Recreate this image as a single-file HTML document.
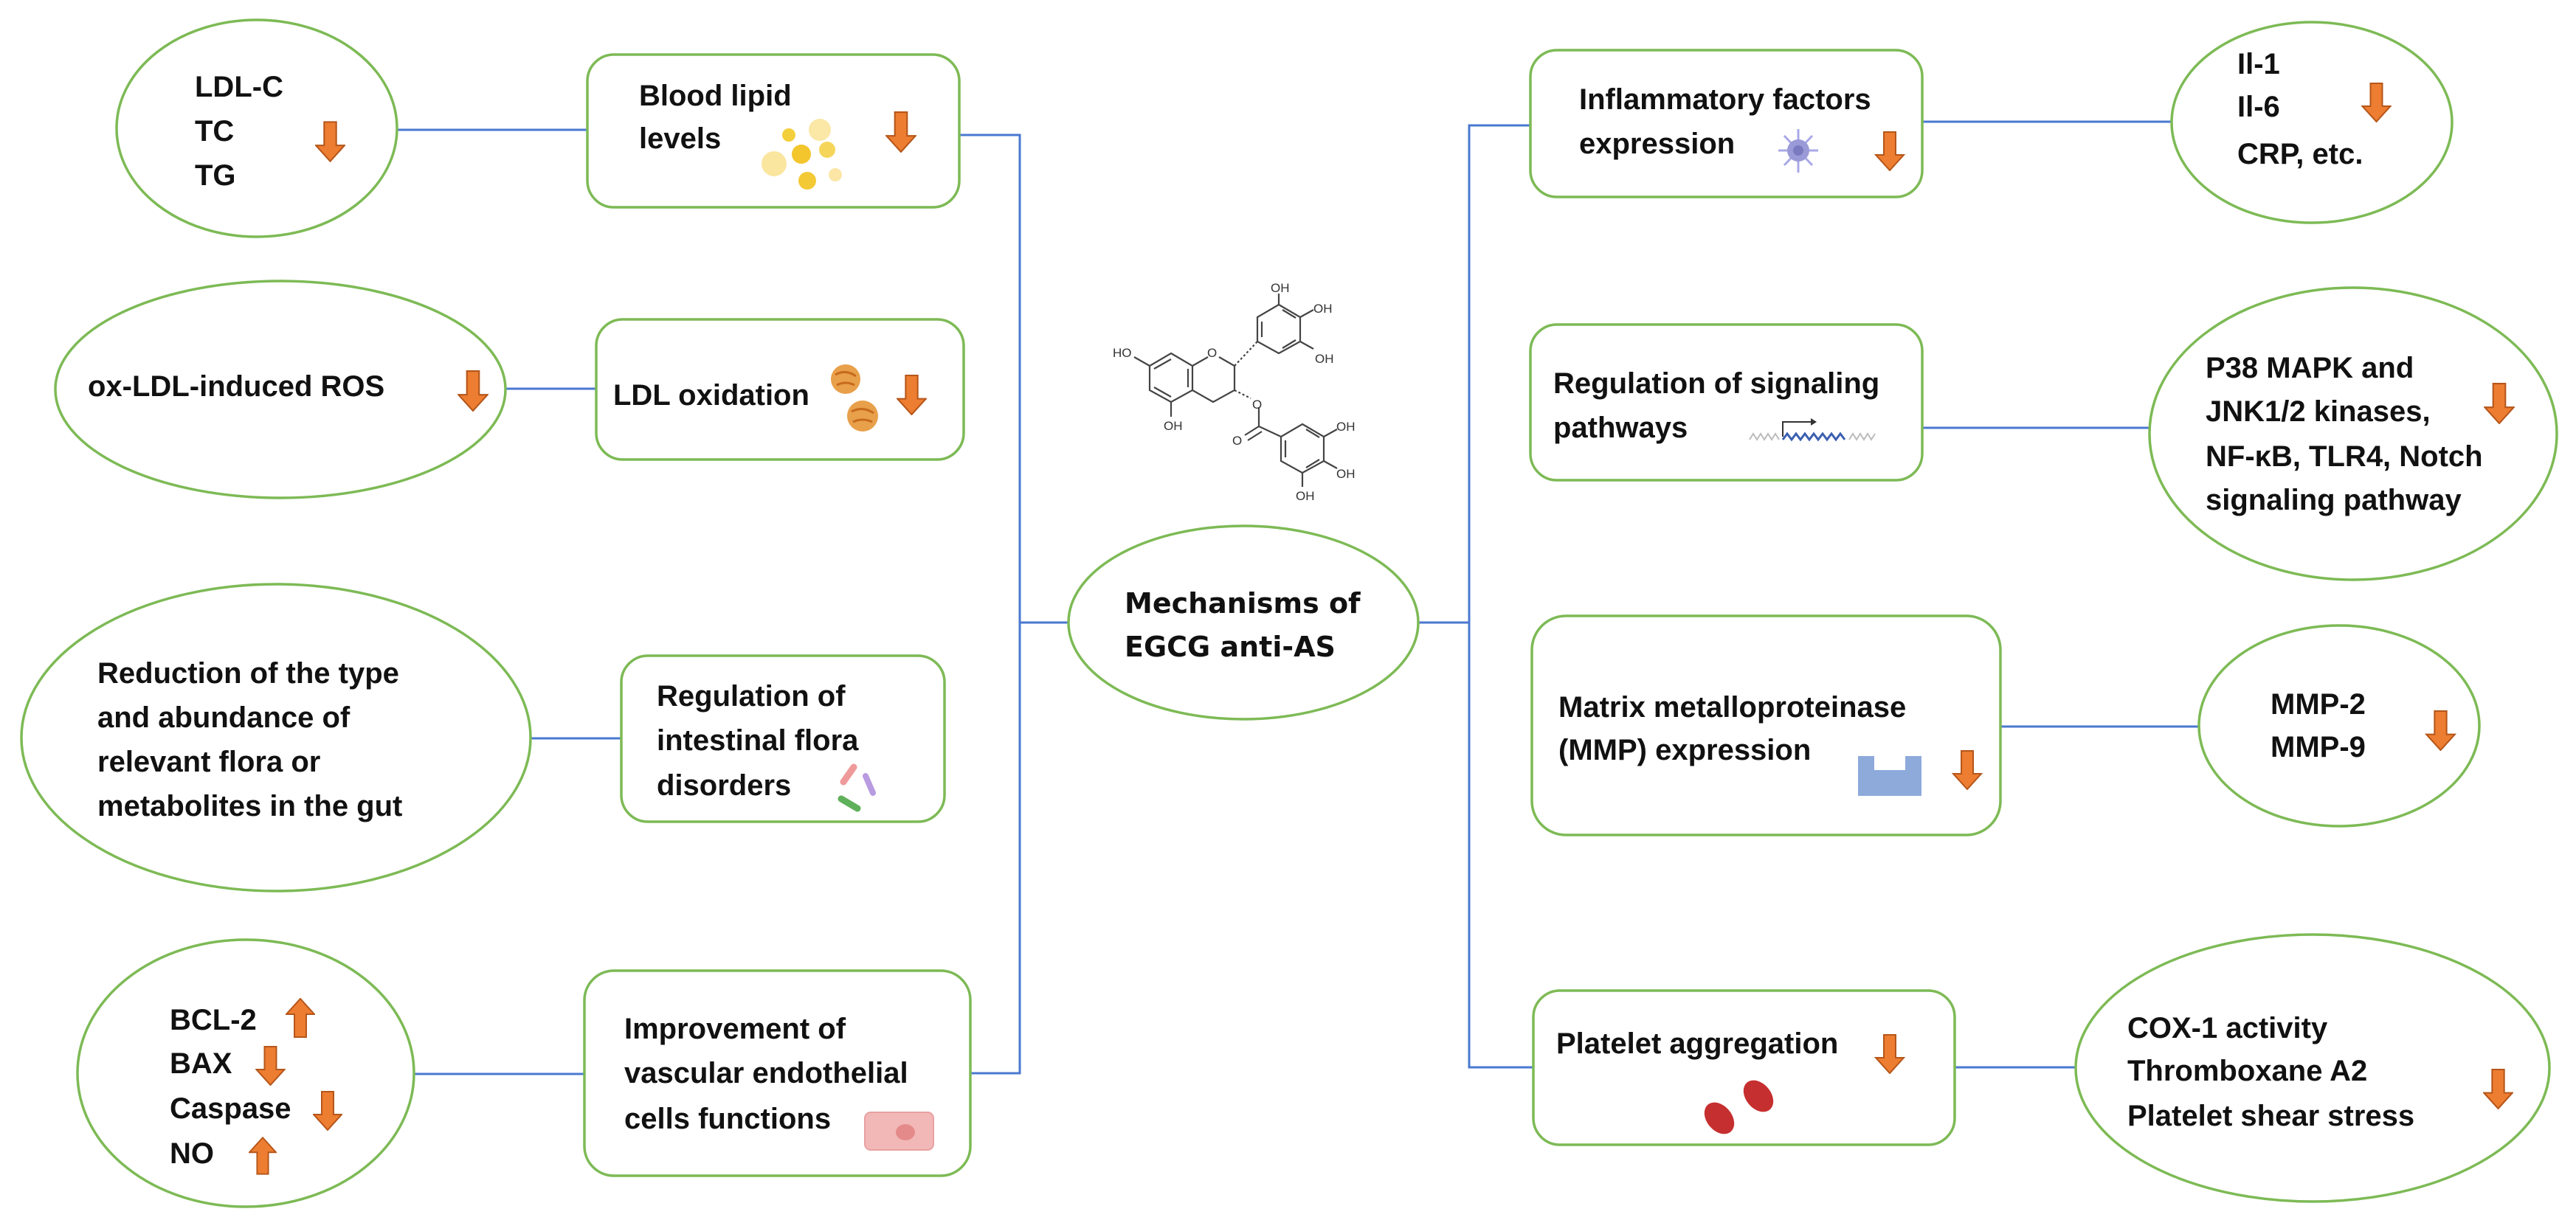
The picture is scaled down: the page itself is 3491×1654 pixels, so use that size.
<!DOCTYPE html>
<html><head><meta charset="utf-8"><style>
html,body{margin:0;padding:0;background:#fff;}
svg{display:block;}
.t{font-family:"Liberation Sans",sans-serif;font-weight:bold;font-size:40px;fill:#111;}
.c{font-family:"DejaVu Sans","Liberation Sans",sans-serif;font-weight:bold;font-size:38px;fill:#111;}
.m{font-family:"Liberation Sans",sans-serif;font-size:17px;fill:#333;}
.g{fill:#fff;stroke:#7dba55;stroke-width:3.5;}
.l{stroke:#4a78d0;stroke-width:3;fill:none;}
.b{stroke:#444;stroke-width:2.2;fill:none;}
</style></head><body>
<svg width="3491" height="1654" viewBox="0 0 3491 1654" xmlns="http://www.w3.org/2000/svg">
<defs>
<symbol id="ad" viewBox="0 0 40 54"><path d="M12 1H28V32H39L20 53L1 32H12Z" fill="#ed7d31" stroke="#b5561a" stroke-width="2"/></symbol>
<symbol id="au" viewBox="0 0 40 54"><path d="M12 53H28V22H39L20 1L1 22H12Z" fill="#ed7d31" stroke="#b5561a" stroke-width="2"/></symbol>
</defs>
<rect width="3491" height="1654" fill="#fff"/>

<!-- connectors -->
<path class="l" d="M1300 183H1382V1455H1315"/>
<path class="l" d="M1382 844H1448"/>
<path class="l" d="M2074 170H1991V1447H2078"/>
<path class="l" d="M1922 844H1991"/>
<path class="l" d="M539 176H796"/>
<path class="l" d="M684 527H808"/>
<path class="l" d="M719 1001H842"/>
<path class="l" d="M561 1456H792"/>
<path class="l" d="M2605 165H2943"/>
<path class="l" d="M2605 580H2913"/>
<path class="l" d="M2711 985H2981"/>
<path class="l" d="M2649 1447H2813"/>

<!-- left side -->
<ellipse class="g" cx="348" cy="174" rx="190" ry="147"/>
<text class="t" x="264" y="131">LDL-C</text>
<text class="t" x="264" y="191">TC</text>
<text class="t" x="264" y="251">TG</text>
<use href="#ad" x="427" y="164" width="41" height="56"/>

<rect class="g" x="796" y="74" width="504" height="207" rx="36"/>
<text class="t" x="866" y="143">Blood lipid</text>
<text class="t" x="866" y="201">levels</text>
<g>
<circle cx="1111" cy="176" r="15" fill="#fbe7a6"/>
<circle cx="1069" cy="183" r="9" fill="#f4cf3c"/>
<circle cx="1086" cy="209" r="13" fill="#f2c62c"/>
<circle cx="1121" cy="203" r="11" fill="#f6d65a"/>
<circle cx="1049" cy="222" r="17" fill="#fbe6a0"/>
<circle cx="1094" cy="245" r="12" fill="#f3c935"/>
<circle cx="1132" cy="237" r="9" fill="#fbe6a6"/>
</g>
<use href="#ad" x="1200" y="151" width="42" height="56"/>

<ellipse class="g" cx="380" cy="528" rx="305" ry="147"/>
<text class="t" x="119" y="537">ox-LDL-induced ROS</text>
<use href="#ad" x="620" y="502" width="42" height="56"/>

<rect class="g" x="808" y="433" width="498" height="190" rx="36"/>
<text class="t" x="831" y="549">LDL oxidation</text>
<circle cx="1146" cy="514" r="20" fill="#e8a04a"/>
<path d="M1132 508q14 -8 28 2M1134 522q12 -6 24 0" stroke="#c76a1c" stroke-width="3" fill="none"/>
<circle cx="1169" cy="564" r="21" fill="#e8a04a"/>
<path d="M1154 558q15 -8 30 2M1156 572q13 -6 26 0" stroke="#c76a1c" stroke-width="3" fill="none"/>
<use href="#ad" x="1215" y="508" width="41" height="55"/>

<ellipse class="g" cx="374" cy="1000" rx="345" ry="208"/>
<text class="t" x="132" y="926">Reduction of the type</text>
<text class="t" x="132" y="986">and abundance of</text>
<text class="t" x="132" y="1046">relevant flora or</text>
<text class="t" x="132" y="1106">metabolites in the gut</text>

<rect class="g" x="842" y="889" width="438" height="225" rx="36"/>
<text class="t" x="890" y="957">Regulation of</text>
<text class="t" x="890" y="1017">intestinal flora</text>
<text class="t" x="890" y="1078">disorders</text>
<line x1="1143" y1="1060" x2="1157" y2="1040" stroke="#ef9a9a" stroke-width="9" stroke-linecap="round"/>
<line x1="1173" y1="1052" x2="1183" y2="1075" stroke="#b89be0" stroke-width="8" stroke-linecap="round"/>
<line x1="1140" y1="1083" x2="1162" y2="1096" stroke="#5fb05a" stroke-width="9" stroke-linecap="round"/>

<ellipse class="g" cx="333" cy="1455" rx="228" ry="181"/>
<text class="t" x="230" y="1396">BCL-2</text>
<text class="t" x="230" y="1455">BAX</text>
<text class="t" x="230" y="1516">Caspase</text>
<text class="t" x="230" y="1577">NO</text>
<use href="#au" x="387" y="1353" width="40" height="54"/>
<use href="#ad" x="346" y="1418" width="41" height="54"/>
<use href="#ad" x="424" y="1479" width="40" height="54"/>
<use href="#au" x="337" y="1540" width="38" height="54"/>

<rect class="g" x="792" y="1316" width="523" height="278" rx="40"/>
<text class="t" x="846" y="1408">Improvement of</text>
<text class="t" x="846" y="1468">vascular endothelial</text>
<text class="t" x="846" y="1530">cells functions</text>
<rect x="1172" y="1508" width="93" height="51" rx="8" fill="#f2b8b8" stroke="#e9a0a0" stroke-width="2"/>
<ellipse cx="1227" cy="1535" rx="13" ry="11" fill="#e58a8a"/>

<!-- molecule -->
<g class="b">
<polygon points="1587,479 1616,496 1616,529 1587,545 1558,529 1558,496"/>
<line x1="1564" y1="500" x2="1587" y2="487"/><line x1="1564" y1="525" x2="1587" y2="538"/><line x1="1610" y1="500" x2="1610" y2="525"/>
<polyline points="1616,496 1637,484"/><polyline points="1652,484 1673,496 1673,529 1644,545 1616,529"/>
<line x1="1558" y1="496" x2="1537" y2="484"/>
<line x1="1587" y1="545" x2="1587" y2="565"/>
<polygon points="1733,413 1762,430 1762,463 1733,479 1704,463 1704,430"/>
<line x1="1738" y1="420" x2="1756" y2="431"/><line x1="1738" y1="472" x2="1756" y2="461"/><line x1="1710" y1="436" x2="1710" y2="457"/>
<line x1="1733" y1="413" x2="1733" y2="398"/>
<line x1="1762" y1="430" x2="1780" y2="420"/>
<line x1="1762" y1="463" x2="1780" y2="473"/>
<line x1="1673" y1="496" x2="1704" y2="463" stroke-dasharray="3 3"/>
<line x1="1673" y1="529" x2="1695" y2="540" stroke-dasharray="3 3"/>
<line x1="1706" y1="552" x2="1706" y2="578"/>
<line x1="1706" y1="578" x2="1687" y2="590"/><line x1="1710" y1="585" x2="1691" y2="597"/>
<line x1="1706" y1="578" x2="1736" y2="592"/>
<polygon points="1765,575 1794,592 1794,625 1765,641 1736,625 1736,592"/>
<line x1="1742" y1="597" x2="1742" y2="620"/><line x1="1770" y1="582" x2="1788" y2="593"/><line x1="1770" y1="634" x2="1788" y2="623"/>
<line x1="1794" y1="592" x2="1812" y2="582"/>
<line x1="1794" y1="625" x2="1812" y2="635"/>
<line x1="1765" y1="641" x2="1765" y2="660"/>
</g>
<text class="m" x="1508" y="484">HO</text>
<text class="m" x="1636" y="484">O</text>
<text class="m" x="1577" y="583">OH</text>
<text class="m" x="1722" y="396">OH</text>
<text class="m" x="1780" y="424">OH</text>
<text class="m" x="1782" y="492">OH</text>
<text class="m" x="1697" y="554">O</text>
<text class="m" x="1670" y="603">O</text>
<text class="m" x="1811" y="584">OH</text>
<text class="m" x="1811" y="648">OH</text>
<text class="m" x="1756" y="678">OH</text>

<!-- center -->
<ellipse class="g" cx="1685" cy="844" rx="237" ry="131"/>
<text class="c" x="1524" y="831">Mechanisms of</text>
<text class="c" x="1524" y="890">EGCG anti-AS</text>

<!-- right side -->
<rect class="g" x="2074" y="68" width="531" height="199" rx="36"/>
<text class="t" x="2140" y="148">Inflammatory factors</text>
<text class="t" x="2140" y="208">expression</text>
<g stroke="#a8a8e8" stroke-width="3">
<line x1="2437" y1="175" x2="2437" y2="234"/><line x1="2410" y1="204" x2="2464" y2="204"/>
<line x1="2418" y1="184" x2="2456" y2="224"/><line x1="2456" y1="184" x2="2418" y2="224"/>
</g>
<circle cx="2437" cy="204" r="15" fill="#9a9ad8"/>
<circle cx="2437" cy="204" r="7" fill="#7a7ac0"/>
<use href="#ad" x="2540" y="178" width="42" height="54"/>

<ellipse class="g" cx="3133" cy="166" rx="190" ry="136"/>
<text class="t" x="3032" y="100">Il-1</text>
<text class="t" x="3032" y="158">Il-6</text>
<text class="t" x="3032" y="222">CRP, etc.</text>
<use href="#ad" x="3200" y="112" width="41" height="54"/>

<rect class="g" x="2074" y="440" width="531" height="211" rx="36"/>
<text class="t" x="2105" y="533">Regulation of signaling</text>
<text class="t" x="2105" y="593">pathways</text>
<path d="M2371 596l5 -8l5 8l5 -8l5 8l5 -8l5 8l5 -8l5 8" stroke="#bbb" stroke-width="2" fill="none"/>
<path d="M2416 596l6 -8l6 8l6 -8l6 8l6 -8l6 8l6 -8l6 8l6 -8l6 8l6 -8l6 8l6 -8l6 8" stroke="#3b5fb0" stroke-width="3" fill="none"/>
<path d="M2506 596l5 -8l5 8l5 -8l5 8l5 -8l5 8l5 -8" stroke="#bbb" stroke-width="2" fill="none"/>
<path d="M2416 592V572H2454" stroke="#333" stroke-width="2" fill="none"/>
<path d="M2454 567l8 5l-8 5z" fill="#333"/>

<ellipse class="g" cx="3189" cy="588" rx="276" ry="198"/>
<text class="t" x="2989" y="512">P38 MAPK and</text>
<text class="t" x="2989" y="571">JNK1/2 kinases,</text>
<text class="t" x="2989" y="632">NF-κB, TLR4, Notch</text>
<text class="t" x="2989" y="691">signaling pathway</text>
<use href="#ad" x="3366" y="519" width="42" height="56"/>

<rect class="g" x="2076" y="835" width="635" height="297" rx="46"/>
<text class="t" x="2112" y="972">Matrix metalloproteinase</text>
<text class="t" x="2112" y="1030">(MMP) expression</text>
<path d="M2518 1025H2540V1044H2582V1025H2604V1079H2518Z" fill="#8eaadb"/>
<use href="#ad" x="2645" y="1017" width="42" height="54"/>

<ellipse class="g" cx="3170" cy="984" rx="190" ry="136"/>
<text class="t" x="3077" y="968">MMP-2</text>
<text class="t" x="3077" y="1026">MMP-9</text>
<use href="#ad" x="3286" y="963" width="43" height="55"/>

<rect class="g" x="2078" y="1343" width="571" height="209" rx="36"/>
<text class="t" x="2109" y="1428">Platelet aggregation</text>
<use href="#ad" x="2540" y="1402" width="42" height="54"/>
<ellipse cx="2383" cy="1486" rx="24" ry="17" transform="rotate(50 2383 1486)" fill="#c62f2f"/>
<ellipse cx="2330" cy="1516" rx="24" ry="17" transform="rotate(50 2330 1516)" fill="#c62f2f"/>

<ellipse class="g" cx="3134" cy="1448" rx="321" ry="181"/>
<text class="t" x="2883" y="1407">COX-1 activity</text>
<text class="t" x="2883" y="1465">Thromboxane A2</text>
<text class="t" x="2883" y="1526">Platelet shear stress</text>
<use href="#ad" x="3365" y="1449" width="41" height="55"/>
</svg>
</body></html>
